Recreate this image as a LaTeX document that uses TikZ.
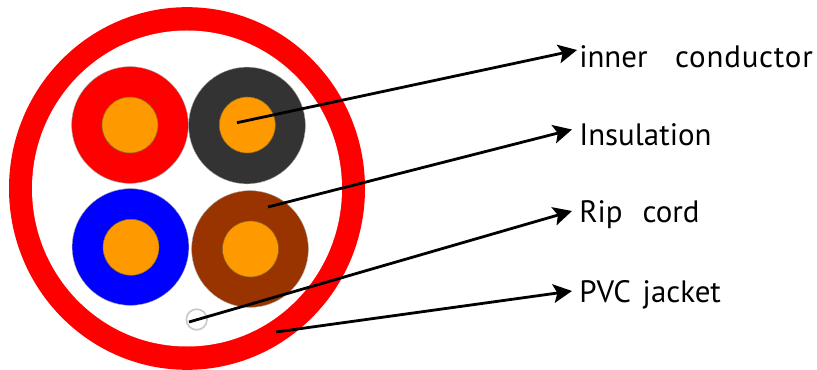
\documentclass[tikz,border=0pt]{standalone}
\usepackage{fontspec}
\setmainfont{PT Sans}
\usetikzlibrary{arrows.meta,shapes.geometric}
\definecolor{cond}{HTML}{FF9900}
\definecolor{condedge}{HTML}{8A6A20}
\definecolor{blk}{HTML}{333333}
\definecolor{brn}{HTML}{993300}
\tikzset{
  px/.style={x=0.75pt,y=-0.75pt},
  jacketouter/.style={ellipse,fill=red,inner sep=0pt,minimum width=267pt,minimum height=272pt},
  jacketinner/.style={ellipse,fill=white,inner sep=0pt,minimum width=232.5pt,minimum height=237pt},
  wire/.style={circle,inner sep=0pt,minimum size=87.5pt,draw=black!35,line width=0.3pt,fill=#1},
  core/.style={circle,inner sep=0pt,minimum size=42pt,fill=cond,draw=condedge,line width=0.4pt},
  ripc/.style={circle,inner sep=0pt,minimum size=15.5pt,draw=black!22,line width=1.2pt,fill=white},
  lead/.style={draw=black,line width=2.1pt,-{Stealth[length=14pt,width=14pt,inset=3pt]}},
  lab/.style={anchor=base west,inner sep=0pt,font=\fontsize{23.2pt}{27pt}\selectfont}
}
\begin{document}
\begin{tikzpicture}[px]
\useasboundingbox (0,0) rectangle (817,370);
\begin{scope}
\clip (0,0) rectangle (817,370);
\node[jacketouter] (jo) at (187,188.5) {};
\node[jacketinner] (ji) at (187,188.5) {};
\end{scope}
\node[wire=red] (w1) at (130,125) {};
\node[wire=blk] (w2) at (247,125.5) {};
\node[wire=blue] (w3) at (130.5,247) {};
\node[wire=brn] (w4) at (250,249) {};
\node[core] (c1) at (130,125) {};
\node[core] (c2) at (247.3,125) {};
\node[core] (c3) at (131,247.3) {};
\node[core] (c4) at (250.5,249) {};
\node[ripc] (rc) at (196.7,319.5) {};
\node[lab] (l1) at (579,68) {inner\hspace{0.89em}{\addfontfeature{LetterSpace=2.6}conductor}};
\node[lab] (l2) at (579,146) {Insulation};
\node[lab] (l3) at (579,223) {Rip\hspace{0.64em}cord};
\node[lab] (l4) at (579,302) {PVC\hspace{0.38em}jacket};
\coordinate (s1) at (237,122.7);
\coordinate (s2) at (268,207);
\coordinate (s3) at (189,322);
\coordinate (s4) at (276,332);
\coordinate (t1) at (577,50);
\coordinate (t2) at (572,129.5);
\coordinate (t3) at (572,211);
\coordinate (t4) at (572,291);
\draw[lead] (s1) -- (t1);
\draw[lead] (s2) -- (t2);
\draw[lead] (s3) -- (t3);
\draw[lead] (s4) -- (t4);
\end{tikzpicture}
\end{document}
